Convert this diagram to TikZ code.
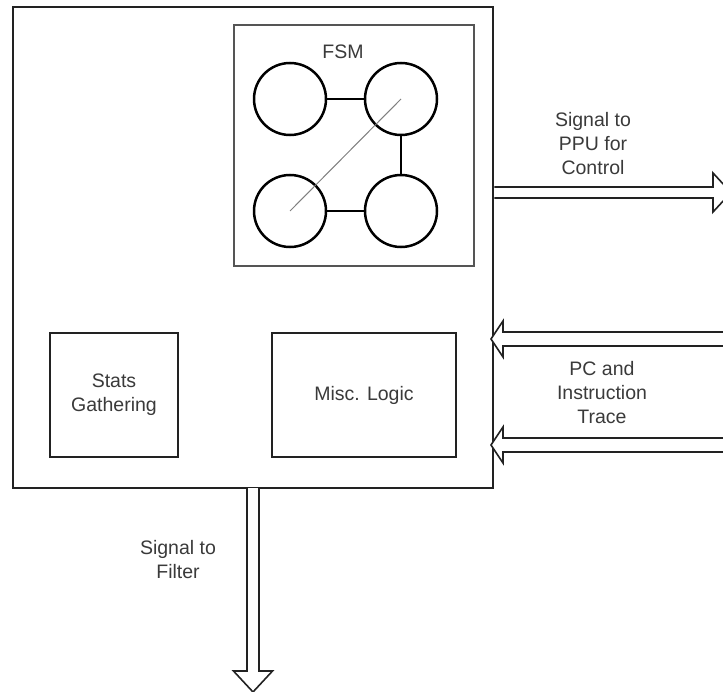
\documentclass[tikz,border=0pt]{standalone}
\usepackage{fontspec}
\setmainfont{Liberation Sans}
\definecolor{inktext}{HTML}{3A3A3A}
\definecolor{inkline}{HTML}{222222}
\definecolor{inkgray}{HTML}{555555}
\begin{document}
\begin{tikzpicture}[x=1bp,y=-1bp,
  lbl/.style={text=inktext, align=center, inner sep=0pt,
    font=\fontsize{19.5bp}{24bp}\selectfont},
  block/.style={draw=inkline, line width=2bp, inner sep=0pt, fill=white},
  state/.style={circle, draw=black, line width=2.5bp, minimum size=72bp, inner sep=0pt},
  link/.style={draw=black, line width=2.2bp},
  bus/.style={draw=inkline, line width=1.6bp, fill=white, line join=miter}]
  \useasboundingbox (0,0) rectangle (723,692);

  % outer unit
  \node[block, line width=2.6bp, minimum width=480bp, minimum height=481bp] (unit) at (253,247.5) {};

  % state machine block
  \node[draw=inkgray, line width=1.6bp, inner sep=0pt, minimum width=240bp, minimum height=241bp] (fsm) at (354,145.5) {};
  \node[lbl] (fsmlabel) at (343,52) {FSM};
  \node[state] (s1) at (290,99) {};
  \node[state] (s2) at (401,99) {};
  \node[state] (s3) at (290,211) {};
  \node[state] (s4) at (401,211) {};
  \draw[link] (s1) -- (s2);
  \draw[link] (s2) -- (s4);
  \draw[link] (s3) -- (s4);
  \draw[gray, line width=1bp] (s3.center) -- (s2.center);

  % lower blocks
  \node[block, minimum width=128bp, minimum height=124bp] (stats) at (114,395) {};
  \node[lbl] (statslabel) at (stats.center) {Stats\\Gathering};
  \node[block, minimum width=184bp, minimum height=124bp] (misc) at (364,395) {};
  \node[lbl] (misclabel) at (misc.center) {Misc. Logic};

  % outgoing control signal
  \coordinate (ctlA) at (unit.east |- 0,187);
  \coordinate (ctlB) at (unit.east |- 0,198);
  \draw[bus] (ctlA) -- (713,187) -- (713,173) -- (731,192.5) -- (713,212) -- (713,198) -- (ctlB);
  \node[lbl] (ctllabel) at (593,144) {Signal to\\PPU for\\Control};

  % incoming trace buses
  \coordinate (trA) at (491,339);
  \coordinate (trB) at (491,445);
  \draw[bus] (724,332) -- (503,332) -- (503,321) -- (trA) -- (503,357) -- (503,346) -- (724,346);
  \draw[bus] (724,438) -- (503,438) -- (503,427) -- (trB) -- (503,463) -- (503,452) -- (724,452);
  \node[lbl] (trlabel) at (602,393) {PC and\\Instruction\\Trace};

  % outgoing filter signal
  \coordinate (fA) at (247,488);
  \coordinate (fB) at (259,488);
  \coordinate (fTip) at (253,692);
  \draw[bus] (fA) -- (247,671) -- (233.5,671) -- (fTip) -- (272.5,671) -- (259,671) -- (fB);
  \node[lbl] (flabel) at (178,560) {Signal to\\Filter};
\end{tikzpicture}
\end{document}
